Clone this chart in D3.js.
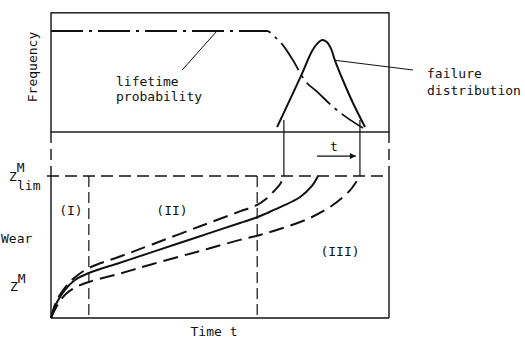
<!DOCTYPE html>
<html>
<head>
<meta charset="utf-8">
<script src="https://cdn.jsdelivr.net/npm/d3@7"></script>
<style>
  body { margin: 0; background: #fff; }
  text { font-family: "DejaVu Sans Mono", monospace; font-size: 13px; fill: #111; }
</style>
</head>
<body>
<div id="chart"></div>
<script>
// time axis runs 0..100, wear 0..100 (100 = Z lim), frequency 0..1
const regionBounds = [11.2, 61.0];          // (I)|(II) and (II)|(III)
const regionLabels = ["(I)", "(II)", "(III)"];

// lifetime probability (dash-dot)
const lifeT = [0, 63.9, 66.3, 68.6, 71.6, 75.1, 78.7, 83.4, 88.5, 92.3];
const lifeF = [1, 1, 0.94, 0.86, 0.71, 0.51, 0.40, 0.25, 0.12, 0.04];

// failure distribution (solid bell)
const failT = [66.9, 70.7, 74.3, 77.2, 78.9, 80.2, 81.6, 82.9, 84.0, 86.4, 89.3, 92.9];
const failF = [0.05, 0.32, 0.58, 0.80, 0.88, 0.91, 0.89, 0.82, 0.71, 0.51, 0.29, 0.05];

// wear curves
const upperT = [0, 1.5, 3.6, 6.5, 11.2, 20.4, 29.9, 44.1, 55.9, 61.0, 63.6, 66.0, 67.8, 68.9];
const upperW = [0, 11.3, 19.7, 27.5, 35.2, 43.3, 51.8, 64.6, 75.1, 79.6, 83.8, 89.4, 94.4, 100];
const meanT  = [0, 1.8, 4.1, 7.1, 11.2, 20.4, 29.9, 44.1, 55.9, 60.4, 63.9, 68.6, 73.7, 77.2, 79.0];
const meanW  = [0, 11.3, 19.7, 26.8, 31.7, 38.9, 46.4, 57.6, 66.9, 70.4, 73.9, 78.9, 85.2, 93.0, 100];
const lowerT = [0, 2.1, 4.4, 7.4, 11.2, 20.4, 29.9, 44.1, 55.9, 61.8, 68.6, 76.6, 83.4, 88.5, 91.4];
const lowerW = [0, 9.9, 16.9, 21.8, 25.4, 31.3, 37.9, 47.2, 55.0, 58.5, 63.4, 70.4, 79.6, 90.1, 100];

const wearLimit = 100;

const width = 525, height = 341;

const x = d3.scaleLinear().domain([0, 100]).range([51, 389]);
const yW = d3.scaleLinear().domain([0, 100]).range([318, 176]);
const yF = d3.scaleLinear().domain([0, 1]).range([132, 31]);

const svg = d3.select("#chart").append("svg")
  .attr("width", width)
  .attr("height", height);

const ink = "#111";

function seg(x1, y1, x2, y2, sw, dash) {
  const l = svg.append("line")
    .attr("x1", x1).attr("y1", y1).attr("x2", x2).attr("y2", y2)
    .attr("stroke", ink).attr("stroke-width", sw);
  if (dash) l.attr("stroke-dasharray", dash);
  return l;
}

// top frequency panel
const fTop = yF(1.18);
svg.append("rect")
  .attr("x", x(0)).attr("y", fTop)
  .attr("width", x(100) - x(0)).attr("height", yF(0) - fTop)
  .attr("fill", "none").attr("stroke", ink).attr("stroke-width", 1.4);

// dashed continuation between panels
seg(x(0), yF(0), x(0), yW(wearLimit), 1.4, "11,6");
seg(x(100), yF(0), x(100), yW(wearLimit), 1.4, "11,6");

// wear panel: solid left, right and bottom
seg(x(0), yW(wearLimit), x(0), yW(0), 1.4);
seg(x(100), yW(wearLimit), x(100), yW(0), 1.4);
seg(x(0), yW(0), x(100), yW(0), 1.4);

// Z lim dashed line + tick
seg(x(0) - 4, yW(wearLimit), x(100), yW(wearLimit), 1.4, "12,6");

// region boundaries
regionBounds.forEach(t => seg(x(t), yW(wearLimit), x(t), yW(0), 1.2, "11,5"));

// curves
const lineF = (ts, fs, curve) => d3.line()
  .x((d, i) => x(ts[i])).y((d, i) => yF(fs[i])).curve(curve)(ts);
const lineW = (ts, ws) => d3.line()
  .x((d, i) => x(ts[i])).y((d, i) => yW(ws[i])).curve(d3.curveCatmullRom.alpha(0.5))(ts);

svg.append("path").attr("d", lineF(lifeT, lifeF, d3.curveMonotoneX))
  .attr("fill", "none").attr("stroke", ink).attr("stroke-width", 1.8)
  .attr("stroke-dasharray", "32,6,3,6");

svg.append("path").attr("d", lineF(failT, failF, d3.curveCatmullRom.alpha(0.5)))
  .attr("fill", "none").attr("stroke", ink).attr("stroke-width", 2);

svg.append("path").attr("d", lineW(upperT, upperW))
  .attr("fill", "none").attr("stroke", ink).attr("stroke-width", 2)
  .attr("stroke-dasharray", "15,7");
svg.append("path").attr("d", lineW(meanT, meanW))
  .attr("fill", "none").attr("stroke", ink).attr("stroke-width", 2);
svg.append("path").attr("d", lineW(lowerT, lowerW))
  .attr("fill", "none").attr("stroke", ink).attr("stroke-width", 2)
  .attr("stroke-dasharray", "15,7");

// drop lines from failure distribution tails to Z lim
[upperT[upperT.length - 1], lowerT[lowerT.length - 1]].forEach(t =>
  seg(x(t), yF(0.12), x(t), yW(wearLimit), 1.2));

// arrow "t"
svg.append("defs").append("marker")
  .attr("id", "arr").attr("viewBox", "0 0 10 10")
  .attr("refX", 10).attr("refY", 5)
  .attr("markerWidth", 11).attr("markerHeight", 6)
  .attr("markerUnits", "userSpaceOnUse")
  .attr("orient", "auto")
  .append("path").attr("d", "M0,0L10,5L0,10Z").attr("fill", ink);
seg(x(78.7), yW(114), x(90.2), yW(114), 1.3).attr("marker-end", "url(#arr)");
svg.append("text").attr("x", x(83.7)).attr("y", yW(117.5))
  .attr("text-anchor", "middle").text("t");

// leaders
seg(x(49.1), yF(1), x(38.8), yF(0.614), 1);
seg(x(failT[8]), yF(failF[8]), x(107.1), yF(0.614), 1);

svg.append("text").attr("x", 116).attr("y", 86).text("lifetime");
svg.append("text").attr("x", 116).attr("y", 101).text("probability");
svg.append("text").attr("x", 427).attr("y", 78).text("failure");
svg.append("text").attr("x", 427).attr("y", 95).text("distribution");

svg.append("text")
  .attr("transform", "translate(37,67) rotate(-90)")
  .attr("text-anchor", "middle").text("Frequency");

// region labels: centre time and wear height
const regionPos = [[5.9, 72.5], [35.8, 72.5], [85.5, 44]];
regionLabels.forEach((s, i) => {
  svg.append("text")
    .attr("x", x(regionPos[i][0])).attr("y", yW(regionPos[i][1]))
    .attr("text-anchor", "middle").text(s);
});

// y labels
const zl = svg.append("text").attr("x", 9).attr("y", 181);
zl.append("tspan").text("Z");
zl.append("tspan").attr("dy", -9).text("M");
zl.append("tspan").attr("x", 17).attr("dy", 18).text("lim");

svg.append("text").attr("x", 1).attr("y", 243).text("Wear");

const zm = svg.append("text").attr("x", 10).attr("y", 291);
zm.append("tspan").text("Z");
zm.append("tspan").attr("dy", -8).text("M");

svg.append("text").attr("x", 214).attr("y", 336)
  .attr("text-anchor", "middle").text("Time t");
</script>
</body>
</html>
